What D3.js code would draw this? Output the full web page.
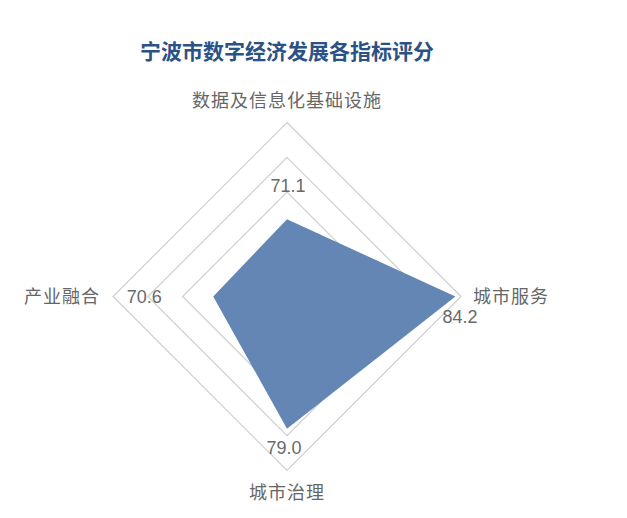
<!DOCTYPE html>
<html>
<head>
<meta charset="utf-8">
<script src="https://cdn.jsdelivr.net/npm/d3@7"></script>
<style>
  body { margin: 0; background: #fff; }
  text { font-family: "Noto Sans CJK SC", "Liberation Sans", sans-serif; }
</style>
</head>
<body>
<svg id="chart"></svg>
<script>
// data
let title = "宁波市数字经济发展各指标评分";
let indicators = ["数据及信息化基础设施", "城市服务", "城市治理", "产业融合"];
let scores = [71.1, 84.2, 79.0, 70.6];
let ringValues = [75, 80, 85];
let scaleRange = [60, 85];

function getConfig() {
  let width = 627;
  let height = 518;
  let cx = 287;
  let cy = 296.5;
  let radius = 174;
  let container = d3.select("#chart")
    .attr("width", width)
    .attr("height", height);
  return {width, height, cx, cy, radius, container};
}

function getScales(config) {
  let rScale = d3.scaleLinear()
    .domain(scaleRange)
    .range([0, config.radius]);
  // top, right, bottom, left
  let angle = i => -Math.PI / 2 + i * Math.PI / 2;
  return {rScale, angle};
}

function point(v, i, scales, config) {
  let r = scales.rScale(v);
  let a = scales.angle(i);
  return [config.cx + r * Math.cos(a), config.cy + r * Math.sin(a)];
}

function drawRadar(config, scales) {
  let {container, cx, cy} = config;

  container.append("text")
    .attr("x", 287)
    .attr("y", 59)
    .attr("text-anchor", "middle")
    .style("font-size", "21px")
    .style("font-weight", "bold")
    .style("fill", "#2b5284")
    .text(title);

  let line = d3.line();

  // rings
  container.selectAll(".ring")
    .data(ringValues)
    .enter()
    .append("path")
      .attr("class", "ring")
      .attr("d", v => line(indicators.map((d, i) => point(v, i, scales, config))) + "Z")
      .style("fill", "none")
      .style("stroke", "#cfcfcf")
      .style("stroke-width", 1.2);

  // data area
  container.append("path")
    .attr("d", line(scores.map((v, i) => point(v, i, scales, config))) + "Z")
    .style("fill", "#6386b5");

  // indicator names
  let nameOffsets = [
    {dx: 0, dy: -190, anchor: "middle"},
    {dx: 186, dy: 6, anchor: "start"},
    {dx: 0, dy: 202, anchor: "middle"},
    {dx: -187, dy: 6, anchor: "end"}
  ];
  container.selectAll(".name")
    .data(indicators)
    .enter()
    .append("text")
      .attr("class", "name")
      .attr("x", (d, i) => cx + nameOffsets[i].dx)
      .attr("y", (d, i) => cy + nameOffsets[i].dy)
      .attr("text-anchor", (d, i) => nameOffsets[i].anchor)
      .style("font-size", "18px")
      .style("letter-spacing", "1px")
      .style("fill", "#666")
      .text(d => d);

  // value labels
  let labelOffsets = [
    {dx: 1, dy: -27, anchor: "middle"},
    {dx: -13, dy: 26, anchor: "start"},
    {dx: -3, dy: 25, anchor: "middle"},
    {dx: -69, dy: 6, anchor: "middle"}
  ];
  container.selectAll(".val")
    .data(scores)
    .enter()
    .append("text")
      .attr("class", "val")
      .attr("x", (v, i) => point(v, i, scales, config)[0] + labelOffsets[i].dx)
      .attr("y", (v, i) => point(v, i, scales, config)[1] + labelOffsets[i].dy)
      .attr("text-anchor", (v, i) => labelOffsets[i].anchor)
      .style("font-family", "'Liberation Sans', sans-serif")
      .style("font-size", "18px")
      .style("fill", "#6a6a6a")
      .text(v => v.toFixed(1));
}

let config = getConfig();
let scales = getScales(config);
drawRadar(config, scales);
</script>
</body>
</html>
